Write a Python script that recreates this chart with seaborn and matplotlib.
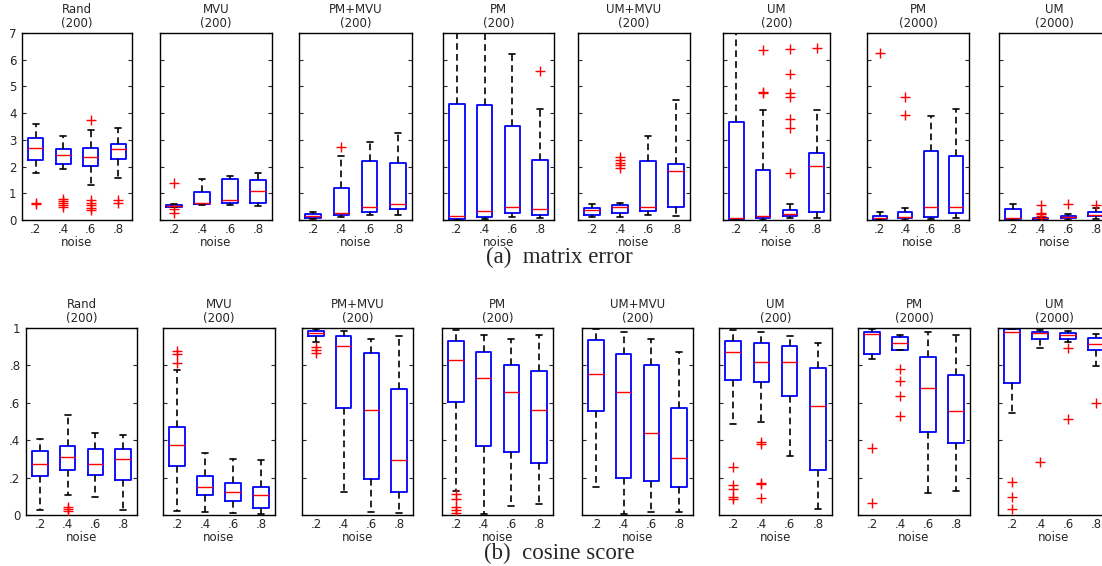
import matplotlib
matplotlib.use("Agg")
import matplotlib.pyplot as plt
import pandas as pd
import seaborn as sns

NOISE = [".2", ".4", ".6", ".8"]
METHODS = ["Rand", "MVU", "PM+MVU", "PM", "UM+MVU", "UM", "PM", "UM"]
SIZES = ["(200)"] * 6 + ["(2000)"] * 2

# (a) matrix error -- box stats, per method, per noise level
ERR_LO = [[1.75, 1.90, 1.31, 1.56], [0.48, 0.55, 0.57, 0.52], [0.03, 0.11, 0.17, 0.17],
          [0.00, 0.02, 0.10, 0.07], [0.10, 0.10, 0.19, 0.16], [0.00, 0.00, 0.08, 0.08],
          [0.00, 0.01, 0.02, 0.06], [0.00, 0.01, 0.01, 0.04]]
ERR_Q1 = [[2.25, 2.10, 2.04, 2.29], [0.50, 0.60, 0.65, 0.62], [0.09, 0.17, 0.29, 0.41],
          [0.02, 0.11, 0.27, 0.20], [0.19, 0.26, 0.35, 0.49], [0.00, 0.09, 0.16, 0.29],
          [0.04, 0.08, 0.11, 0.25], [0.04, 0.04, 0.06, 0.14]]
ERR_MED = [[2.68, 2.45, 2.35, 2.66], [0.54, 0.62, 0.75, 1.07], [0.14, 0.25, 0.47, 0.60],
           [0.16, 0.34, 0.47, 0.40], [0.36, 0.47, 0.49, 1.82], [0.09, 0.15, 0.21, 2.01],
           [0.08, 0.11, 0.48, 0.49], [0.08, 0.06, 0.10, 0.20]]
ERR_Q3 = [[3.06, 2.64, 2.70, 2.84], [0.58, 1.06, 1.52, 1.51], [0.21, 1.19, 2.21, 2.15],
          [4.36, 4.31, 3.52, 2.24], [0.46, 0.57, 2.22, 2.11], [3.65, 1.88, 0.39, 2.52],
          [0.16, 0.29, 2.60, 2.38], [0.43, 0.09, 0.14, 0.30]]
ERR_HI = [[3.59, 3.15, 3.37, 3.45], [0.61, 1.54, 1.66, 1.76], [0.30, 2.41, 2.91, 3.25],
          [7.60, 7.60, 6.22, 4.15], [0.59, 0.62, 3.14, 4.49], [7.60, 4.11, 0.59, 4.12],
          [0.31, 0.44, 3.90, 4.14], [0.60, 0.12, 0.22, 0.46]]
ERR_OUT = [
    [[0.60, 0.65], [0.80, 0.70, 0.62, 0.55, 0.48], [3.75, 0.75, 0.65, 0.55, 0.45, 0.38], [0.75, 0.62]],
    [[1.40, 0.40, 0.27], [], [], []],
    [[], [2.75], [], []],
    [[], [], [], [5.57]],
    [[], [2.35, 2.25, 2.15, 2.05, 1.95], [], []],
    [[], [6.35, 4.81, 4.74], [6.40, 5.45, 4.74, 4.59, 3.79, 3.44, 1.76], [6.44]],
    [[6.26], [4.61, 3.94], [], []],
    [[], [0.56, 0.28, 0.22, 0.16], [0.60], [0.56]],
]

# (b) cosine score
COS_LO = [[0.027, 0.105, 0.098, 0.029], [0.021, 0.014, 0.009, 0.005], [0.923, 0.125, 0.016, 0.009],
          [0.129, 0.005, 0.050, 0.059], [0.150, 0.005, 0.018, 0.018], [0.489, 0.498, 0.318, 0.034],
          [0.836, 0.880, 0.116, 0.127], [0.546, 0.893, 0.927, 0.798]]
COS_Q1 = [[0.210, 0.240, 0.214, 0.188], [0.263, 0.107, 0.075, 0.036], [0.955, 0.570, 0.195, 0.125],
          [0.604, 0.371, 0.336, 0.277], [0.554, 0.196, 0.182, 0.148], [0.723, 0.709, 0.636, 0.239],
          [0.861, 0.880, 0.445, 0.384], [0.705, 0.941, 0.941, 0.884]]
COS_MED = [[0.275, 0.310, 0.273, 0.298], [0.373, 0.152, 0.123, 0.105], [0.971, 0.902, 0.559, 0.293],
           [0.827, 0.734, 0.657, 0.559], [0.752, 0.657, 0.439, 0.304], [0.871, 0.818, 0.820, 0.584],
           [0.966, 0.920, 0.680, 0.554], [0.979, 0.971, 0.961, 0.916]]
COS_Q3 = [[0.343, 0.371, 0.354, 0.354], [0.468, 0.210, 0.170, 0.150], [0.986, 0.955, 0.866, 0.673],
          [0.930, 0.870, 0.800, 0.770], [0.938, 0.861, 0.800, 0.573], [0.932, 0.918, 0.902, 0.786],
          [0.980, 0.950, 0.845, 0.746], [0.996, 0.980, 0.973, 0.945]]
COS_HI = [[0.407, 0.534, 0.438, 0.430], [0.777, 0.332, 0.302, 0.295], [0.996, 0.982, 0.941, 0.959],
          [0.991, 0.964, 0.941, 0.964], [0.995, 0.977, 0.941, 0.870], [0.989, 0.980, 0.959, 0.920],
          [0.995, 0.961, 0.979, 0.964], [0.996, 0.988, 0.986, 0.968]]
COS_OUT = [
    [[], [0.045, 0.032, 0.021], [], []],
    [[0.879, 0.859, 0.811], [], [], []],
    [[0.900, 0.884, 0.868], [], [], []],
    [[0.113, 0.086, 0.041, 0.027, 0.013], [], [], []],
    [[], [], [], []],
    [[0.259, 0.160, 0.139, 0.098, 0.086], [0.391, 0.380, 0.173, 0.164, 0.089], [], []],
    [[0.357, 0.063], [0.782, 0.718, 0.634, 0.532], [], []],
    [[0.179, 0.095, 0.030], [0.284], [0.891, 0.513], [0.598]],
]

ERR_TICKS = [0, 1, 2, 3, 4, 5, 6, 7]
COS_TICKS = [0, 0.2, 0.4, 0.6, 0.8, 1.0]
COS_TICKLABELS = ["0", ".2", ".4", ".6", ".8", "1"]

W, H = 1102, 566
# panel edges in pixels (left, right) -- the two rows were separate figures
TOP_X = [(22, 132), (160, 272), (299, 412), (443, 554), (578, 690), (723, 830), (867, 969), (999, 1110)]
BOT_X = [(26, 137), (163, 275), (302, 413), (442, 553), (582, 693), (719, 832), (858, 970), (998, 1110)]
TOP_Y = (33, 220)
BOT_Y = (328, 515)
FS = 8.5

sns.set_style("white")
plt.rcParams["font.family"] = ["DejaVu Sans"]


def draw_panel(ax, lo, q1, med, q3, hi, out):
    rows = []
    for i, lab in enumerate(NOISE):
        for v in (lo[i], q1[i], med[i], q3[i], hi[i]):
            rows.append((lab, v))
    df = pd.DataFrame(rows, columns=["noise", "value"])
    sns.boxplot(data=df, x="noise", y="value", order=NOISE, ax=ax,
                whis=(0, 100), width=0.55, fill=False, showfliers=False,
                capwidths=0.22,
                boxprops=dict(color="#0000ff", linewidth=1.3),
                medianprops=dict(color="#ff0000", linewidth=1.0),
                whiskerprops=dict(color="black", linewidth=1.2, linestyle=(0, (4, 2.5))),
                capprops=dict(color="black", linewidth=1.2))
    for i, pts in enumerate(out):
        if pts:
            ax.plot([i] * len(pts), pts, "+", color="#ff0000", ms=7.5, mew=1.0, zorder=3)
    ax.set_xlim(-0.5, 3.5)
    ax.set_xlabel("noise", fontsize=FS, labelpad=0)
    ax.set_ylabel("")
    ax.tick_params(axis="x", length=0, pad=2, labelsize=FS)
    ax.tick_params(axis="y", direction="in", left=True, right=True, length=3,
                   width=0.8, labelsize=FS, pad=4)
    for s in ax.spines.values():
        s.set_color("black")
        s.set_linewidth(1.0)


fig = plt.figure(figsize=(W / 100, H / 100), dpi=100)

rows = [
    (TOP_X, TOP_Y, ERR_LO, ERR_Q1, ERR_MED, ERR_Q3, ERR_HI, ERR_OUT, (0, 7), ERR_TICKS,
     [str(t) for t in ERR_TICKS]),
    (BOT_X, BOT_Y, COS_LO, COS_Q1, COS_MED, COS_Q3, COS_HI, COS_OUT, (0, 1), COS_TICKS,
     COS_TICKLABELS),
]
for xs, (yt, yb), lo, q1, med, q3, hi, out, ylim, ticks, ticklabels in rows:
    for k, (xl, xr) in enumerate(xs):
        ax = fig.add_axes([xl / W, (H - yb) / H, (xr - xl) / W, (yb - yt) / H])
        draw_panel(ax, lo[k], q1[k], med[k], q3[k], hi[k], out[k])
        ax.set_ylim(*ylim)
        ax.set_yticks(ticks)
        if k == 0:
            ax.set_yticklabels(ticklabels)
        else:
            ax.set_yticklabels([])
        ax.set_title(f"{METHODS[k]}\n{SIZES[k]}", fontsize=FS, pad=4, linespacing=1.15)

fig.text(559 / W, (H - 263) / H, "(a)  matrix error", ha="center", va="baseline",
         fontsize=16.5, family=["Liberation Serif", "DejaVu Serif"])
fig.text(559 / W, (H - 559) / H, "(b)  cosine score", ha="center", va="baseline",
         fontsize=16.5, family=["Liberation Serif", "DejaVu Serif"])

fig.savefig("out.png", dpi=100)
